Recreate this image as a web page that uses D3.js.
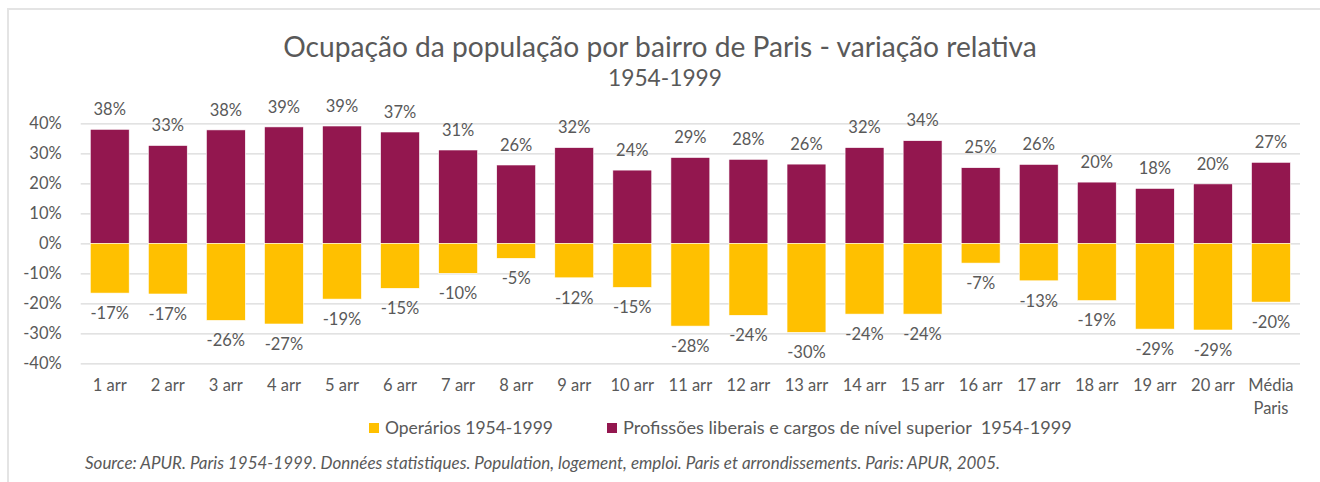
<!DOCTYPE html>
<html>
<head>
<meta charset="utf-8">
<script src="https://cdn.jsdelivr.net/npm/d3@7"></script>
<style>
  html, body { margin: 0; padding: 0; background: #fff; overflow: hidden; }
  svg { display: block; }
  text { font-family: Lato, "Open Sans", sans-serif; fill: #595959; white-space: pre; }
</style>
</head>
<body>
<div class="CHART"></div>
<script>

var categories = ["1 arr", "2 arr", "3 arr", "4 arr", "5 arr", "6 arr", "7 arr", "8 arr", "9 arr", "10 arr",
                  "11 arr", "12 arr", "13 arr", "14 arr", "15 arr", "16 arr", "17 arr", "18 arr", "19 arr", "20 arr",
                  "Média\nParis"];

var operarios = [-16.6, -16.9, -25.7, -26.9, -18.6, -15.0, -10.0, -5.0, -11.5, -14.7,
                 -27.6, -24.0, -29.7, -23.6, -23.6, -6.6, -12.5, -19.1, -28.6, -28.9, -19.6];

var profissoes = [38.0, 32.6, 37.8, 38.8, 39.1, 37.1, 31.1, 26.1, 31.9, 24.4,
                  28.6, 28.0, 26.4, 31.9, 34.2, 25.2, 26.3, 20.4, 18.3, 19.8, 27.0];

var yTicks = [-40, -30, -20, -10, 0, 10, 20, 30, 40];

var seriesNames = ["Operários 1954-1999", "Profissões liberais e cargos de nível superior  1954-1999"];
var colors = ["#FFC000", "#93174f"];

var title = "Ocupação da população por bairro de Paris - variação relativa";
var subtitle = "1954-1999";
var source = "Source: APUR. Paris 1954-1999. Données statistiques. Population, logement, emploi. Paris et arrondissements. Paris: APUR, 2005.";


var W = 1320, H = 482;
var margin = {top: 123.3, left: 80.7},
    width = 1300 - margin.left,
    height = 240;
var fs = 16.5;

var svg = d3.select(".CHART").append("svg")
            .attr("width", W)
            .attr("height", H);

// outer frame: only left and top edges show in the screenshot
svg.append("path")
   .attr("d", "M8," + H + "V9H" + W)
   .attr("fill", "none")
   .attr("stroke", "#e4e4e4")
   .attr("stroke-width", 2);

// shrink/grow font so text has the given width
function fit(t, w) {
  var f = parseFloat(t.attr("font-size"));
  t.attr("font-size", f * w / t.node().getComputedTextLength());
}

var g = svg.append("g").attr("transform", "translate(" + margin.left + "," + margin.top + ")");

var x = d3.scaleBand()
          .domain(categories)
          .range([0, width])
          .paddingInner(0.33)
          .paddingOuter(0.165);

var y = d3.scaleLinear()
          .domain([-40, 40])
          .range([height, 0]);

// y axis + gridlines
var yAxis = g.append("g")
   .call(d3.axisLeft(y).tickValues(yTicks).tickSize(-width).tickPadding(19)
           .tickFormat(function(d){ return d + "%"; }));
yAxis.select(".domain").remove();
yAxis.selectAll("line").attr("stroke", "#d9d9d9").attr("stroke-width", 1.3);
yAxis.selectAll("text").attr("font-size", fs).attr("fill", "#595959")
     .style("font-family", "Lato, sans-serif");

// bars
g.selectAll(".pos").data(profissoes).enter().append("rect")
  .attr("class", "pos")
  .attr("x", function(d, i){ return x(categories[i]); })
  .attr("y", function(d){ return y(d); })
  .attr("width", x.bandwidth())
  .attr("height", function(d){ return y(0) - y(d); })
  .attr("fill", colors[1])
  .attr("stroke", "#fff").attr("stroke-width", 0.6);

g.selectAll(".neg").data(operarios).enter().append("rect")
  .attr("class", "neg")
  .attr("x", function(d, i){ return x(categories[i]); })
  .attr("y", y(0))
  .attr("width", x.bandwidth())
  .attr("height", function(d){ return y(d) - y(0); })
  .attr("fill", colors[0])
  .attr("stroke", "#fff").attr("stroke-width", 0.6);

// data labels (round half away from zero like Excel)
function lbl(v){ return (v < 0 ? "-" : "") + Math.round(Math.abs(v)) + "%"; }

g.selectAll(".lp").data(profissoes).enter().append("text")
  .attr("x", function(d, i){ return x(categories[i]) + x.bandwidth()/2; })
  .attr("y", function(d){ return y(d) - 20; })
  .attr("dy", "0.35em")
  .attr("text-anchor", "middle")
  .attr("font-size", fs)
  .text(lbl);

g.selectAll(".ln").data(operarios).enter().append("text")
  .attr("x", function(d, i){ return x(categories[i]) + x.bandwidth()/2; })
  .attr("y", function(d){ return y(d) + 20; })
  .attr("dy", "0.35em")
  .attr("text-anchor", "middle")
  .attr("font-size", fs)
  .text(lbl);

// x labels
var xl = g.selectAll(".xl").data(categories).enter().append("text")
  .attr("x", function(d){ return x(d) + x.bandwidth()/2; })
  .attr("y", height + 22)
  .attr("text-anchor", "middle")
  .attr("font-size", fs);
xl.each(function(d){
  var t = d3.select(this);
  d.split("\n").forEach(function(s, k){
    t.append("tspan").attr("x", t.attr("x")).attr("dy", k == 0 ? "0.35em" : 23).text(s);
  });
});

// title
var t1 = svg.append("text").attr("x", 660).attr("y", 47).attr("dy", "0.35em")
   .attr("text-anchor", "middle").attr("font-size", 26).text(title);
fit(t1, 754);
var t2 = svg.append("text").attr("x", 665).attr("y", 78).attr("dy", "0.35em")
   .attr("text-anchor", "middle").attr("font-size", 20).text(subtitle);
fit(t2, 114);

// legend
var legX = [369, 607];
var legW = [168, 449];
seriesNames.forEach(function(s, i){
  svg.append("rect").attr("x", legX[i]).attr("y", 423).attr("width", 10).attr("height", 10)
     .attr("fill", colors[i]);
  var lt = svg.append("text").attr("x", legX[i] + 16).attr("y", 428).attr("dy", "0.35em")
     .attr("font-size", 16).text(s);
  fit(lt, legW[i]);
});

// source
var st = svg.append("text").attr("x", 85).attr("y", 463).attr("dy", "0.35em")
   .attr("font-size", 15).attr("font-style", "italic").text(source);
fit(st, 916);

</script>
</body>
</html>
